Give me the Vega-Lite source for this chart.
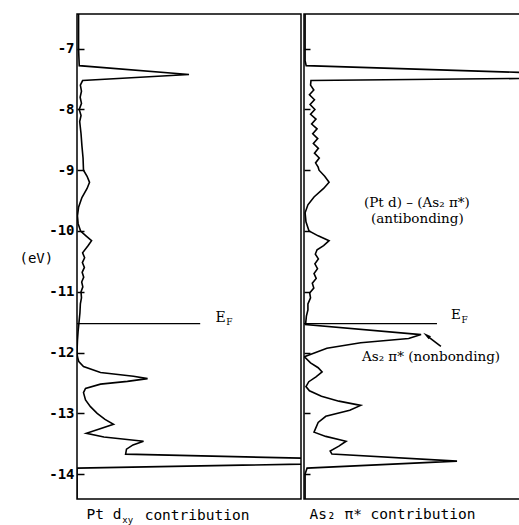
{
  "$schema": "https://vega.github.io/schema/vega-lite/v6.json",
  "padding": {"left": 18, "top": 13, "right": 0, "bottom": 0},
  "spacing": 0,
  "config": {"view": {"stroke": "black", "strokeWidth": 1.5}, "concat": {"spacing": 0}},
  "datasets": {
    "pt": [
      {"e": -6.43, "d": 0.7}, {"e": -7.0, "d": 0.7}, {"e": -7.28, "d": 1}, {"e": -7.426, "d": 50}, {"e": -7.525, "d": 2.5},
      {"e": -7.6, "d": 1.5}, {"e": -7.7, "d": 2}, {"e": -7.8, "d": 1.4}, {"e": -7.9, "d": 2}, {"e": -8.0, "d": 1},
      {"e": -8.1, "d": 1.8}, {"e": -8.2, "d": 1.2}, {"e": -8.4, "d": 1.8}, {"e": -8.6, "d": 2.2}, {"e": -8.8, "d": 2.7},
      {"e": -9.0, "d": 2.9}, {"e": -9.1, "d": 4.5}, {"e": -9.2, "d": 5.6}, {"e": -9.3, "d": 4.5}, {"e": -9.45, "d": 2.2},
      {"e": -9.61, "d": 0.7}, {"e": -9.75, "d": 0.2}, {"e": -9.88, "d": 0.5}, {"e": -10.0, "d": 1.6}, {"e": -10.08, "d": 4},
      {"e": -10.16, "d": 6.5}, {"e": -10.24, "d": 5}, {"e": -10.36, "d": 2.5}, {"e": -10.44, "d": 3.4}, {"e": -10.52, "d": 2.4},
      {"e": -10.6, "d": 3.3}, {"e": -10.68, "d": 2.3}, {"e": -10.76, "d": 3}, {"e": -10.84, "d": 2.1}, {"e": -10.92, "d": 2.6},
      {"e": -11.0, "d": 1.8}, {"e": -11.1, "d": 2}, {"e": -11.2, "d": 1.5}, {"e": -11.35, "d": 1.3}, {"e": -11.5, "d": 0.9},
      {"e": -11.65, "d": 0.5}, {"e": -11.8, "d": 0.2}, {"e": -12.0, "d": 0}, {"e": -12.07, "d": 0.2}, {"e": -12.15, "d": 0.8},
      {"e": -12.23, "d": 2.9}, {"e": -12.33, "d": 10.5}, {"e": -12.39, "d": 25.2}, {"e": -12.43, "d": 31.5}, {"e": -12.475, "d": 22.5},
      {"e": -12.52, "d": 10.5}, {"e": -12.59, "d": 3.8}, {"e": -12.66, "d": 2.9}, {"e": -12.78, "d": 3.8}, {"e": -12.89, "d": 6},
      {"e": -13.0, "d": 9}, {"e": -13.1, "d": 12.5}, {"e": -13.18, "d": 16.3}, {"e": -13.26, "d": 10}, {"e": -13.33, "d": 4.2},
      {"e": -13.39, "d": 12}, {"e": -13.46, "d": 29.7}, {"e": -13.52, "d": 25}, {"e": -13.59, "d": 22.1}, {"e": -13.672, "d": 21.7},
      {"e": -13.793, "d": 165}, {"e": -13.902, "d": 0}, {"e": -14.0, "d": 0}, {"e": -14.41, "d": 0}
    ],
    "as": [
      {"e": -6.43, "d": 0.5}, {"e": -7.2, "d": 0.5}, {"e": -7.279, "d": 1}, {"e": -7.467, "d": 165}, {"e": -7.525, "d": 3.2},
      {"e": -7.6, "d": 3}, {"e": -7.68, "d": 4.5}, {"e": -7.76, "d": 2.5}, {"e": -7.84, "d": 4.8}, {"e": -7.92, "d": 2.8},
      {"e": -8.0, "d": 5}, {"e": -8.08, "d": 3}, {"e": -8.16, "d": 5.5}, {"e": -8.24, "d": 3.5}, {"e": -8.32, "d": 6},
      {"e": -8.4, "d": 4}, {"e": -8.48, "d": 6.3}, {"e": -8.56, "d": 4.3}, {"e": -8.64, "d": 6.6}, {"e": -8.72, "d": 4.8},
      {"e": -8.8, "d": 7}, {"e": -8.88, "d": 5.3}, {"e": -8.95, "d": 6.5}, {"e": -9.0, "d": 6.9}, {"e": -9.1, "d": 9.5},
      {"e": -9.197, "d": 11.5}, {"e": -9.3, "d": 9}, {"e": -9.44, "d": 4.6}, {"e": -9.57, "d": 1.8}, {"e": -9.7, "d": 0.5},
      {"e": -9.85, "d": 0.9}, {"e": -10.0, "d": 2.3}, {"e": -10.08, "d": 6.5}, {"e": -10.16, "d": 11.5}, {"e": -10.24, "d": 9},
      {"e": -10.31, "d": 6}, {"e": -10.38, "d": 5.2}, {"e": -10.46, "d": 6.6}, {"e": -10.54, "d": 5}, {"e": -10.62, "d": 6.2},
      {"e": -10.7, "d": 4.6}, {"e": -10.78, "d": 5.6}, {"e": -10.86, "d": 3.8}, {"e": -10.94, "d": 4.5}, {"e": -11.02, "d": 2.6},
      {"e": -11.1, "d": 3}, {"e": -11.2, "d": 1.8}, {"e": -11.3, "d": 1.8}, {"e": -11.4, "d": 1.1}, {"e": -11.54, "d": 0.7},
      {"e": -11.705, "d": 53.7}, {"e": -11.77, "d": 48}, {"e": -11.84, "d": 26}, {"e": -11.93, "d": 10.5}, {"e": -12.03, "d": 3.2},
      {"e": -12.07, "d": 0.2}, {"e": -12.17, "d": 3}, {"e": -12.25, "d": 6.5}, {"e": -12.32, "d": 8.3}, {"e": -12.4, "d": 5.5},
      {"e": -12.48, "d": 2.2}, {"e": -12.56, "d": 0.9}, {"e": -12.63, "d": 2.5}, {"e": -12.72, "d": 8}, {"e": -12.8, "d": 16},
      {"e": -12.87, "d": 26}, {"e": -12.95, "d": 21}, {"e": -13.05, "d": 10}, {"e": -13.15, "d": 6.5}, {"e": -13.31, "d": 4.6},
      {"e": -13.38, "d": 10}, {"e": -13.46, "d": 19.3}, {"e": -13.54, "d": 16}, {"e": -13.62, "d": 12}, {"e": -13.67, "d": 12.8},
      {"e": -13.787, "d": 70.2}, {"e": -13.902, "d": 1.4}, {"e": -14.0, "d": 0.5}, {"e": -14.41, "d": 0.5}
    ],
    "efPt": [{"e": -11.525, "d0": 0, "d1": 55}],
    "efAs": [{"e": -11.525, "d0": 0, "d1": 61}],
    "notesPt": [
      {"kind": "main", "text": "E", "d": 61.8, "e": -11.43},
      {"kind": "sub", "text": "F", "d": 66.6, "e": -11.5}
    ],
    "bottomPt": [
      {"kind": "sub", "text": "xy", "d": 20.2, "e": -14.755},
      {"kind": "main", "text": "contribution", "d": 30.2, "e": -14.69}
    ],
    "notesAs": [
      {"kind": "main", "text": "E", "d": 67.4, "e": -11.39},
      {"kind": "sub", "text": "F", "d": 72.2, "e": -11.46},
      {"kind": "main", "text": "(Pt d) – (As₂ π*)", "d": 27.5, "e": -9.54},
      {"kind": "main", "text": "(antibonding)", "d": 30.7, "e": -9.8},
      {"kind": "main", "text": "As₂ π* (nonbonding)", "d": 26.6, "e": -12.066}
    ],
    "arrow": [{"d": 62.8, "e": -11.9, "d2": 56.9, "e2": -11.74}],
    "arrowHead": [{"d": 56.2, "e": -11.715}]
  },
  "hconcat": [
    {
      "width": 224,
      "height": 485,
      "layer": [
        {
          "data": {"name": "pt"},
          "mark": {"type": "line", "clip": true, "color": "black", "strokeWidth": 1.6},
          "encoding": {
            "x": {"field": "d", "type": "quantitative", "scale": {"domain": [0, 100], "nice": false},
              "axis": {"domain": false, "ticks": false, "labels": false, "grid": false, "title": "Pt d",
                "titleAnchor": "start", "titleAlign": "left", "titleX": 9, "titleY": 15, "titleBaseline": "middle",
                "titleFont": "DejaVu Sans Mono", "titleFontSize": 14.5, "titleFontWeight": "normal", "titleColor": "black"}},
            "y": {"field": "e", "type": "quantitative", "scale": {"domain": [-14.41, -6.43], "nice": false, "zero": false},
              "axis": {"values": [-14, -13, -12, -11, -10, -9, -8, -7], "domain": false, "grid": false,
                "tickSize": -7, "tickWidth": 1.5, "tickColor": "black", "labelPadding": 10,
                "labelExpr": "'-' + abs(datum.value)", "labelFont": "DejaVu Sans Mono", "labelFontWeight": "bold",
                "labelFontSize": 14, "labelColor": "black",
                "title": "(eV)", "titleAngle": 0, "titleX": -58, "titleY": 244, "titleAlign": "left", "titleBaseline": "middle",
                "titleFont": "DejaVu Sans Mono", "titleFontSize": 14, "titleFontWeight": "normal", "titleColor": "black"}},
            "order": {"field": "e", "sort": "descending"}
          }
        },
        {
          "data": {"name": "efPt"},
          "mark": {"type": "rule", "color": "black", "strokeWidth": 1.2},
          "encoding": {
            "x": {"field": "d0", "type": "quantitative"},
            "x2": {"field": "d1"},
            "y": {"field": "e", "type": "quantitative"}
          }
        },
        {
          "data": {"name": "notesPt"},
          "transform": [{"filter": "datum.kind === 'main'"}],
          "mark": {"type": "text", "font": "DejaVu Serif", "fontSize": 14, "align": "left", "baseline": "middle", "color": "black"},
          "encoding": {
            "x": {"field": "d", "type": "quantitative"},
            "y": {"field": "e", "type": "quantitative"},
            "text": {"field": "text"}
          }
        },
        {
          "data": {"name": "notesPt"},
          "transform": [{"filter": "datum.kind === 'sub'"}],
          "mark": {"type": "text", "font": "DejaVu Serif", "fontSize": 9, "align": "left", "baseline": "middle", "color": "black"},
          "encoding": {
            "x": {"field": "d", "type": "quantitative"},
            "y": {"field": "e", "type": "quantitative"},
            "text": {"field": "text"}
          }
        },
        {
          "data": {"name": "bottomPt"},
          "transform": [{"filter": "datum.kind === 'sub'"}],
          "mark": {"type": "text", "font": "DejaVu Sans Mono", "fontSize": 9, "align": "left", "baseline": "middle", "color": "black"},
          "encoding": {
            "x": {"field": "d", "type": "quantitative"},
            "y": {"field": "e", "type": "quantitative"},
            "text": {"field": "text"}
          }
        },
        {
          "data": {"name": "bottomPt"},
          "transform": [{"filter": "datum.kind === 'main'"}],
          "mark": {"type": "text", "font": "DejaVu Sans Mono", "fontSize": 14.5, "align": "left", "baseline": "middle", "color": "black"},
          "encoding": {
            "x": {"field": "d", "type": "quantitative"},
            "y": {"field": "e", "type": "quantitative"},
            "text": {"field": "text"}
          }
        }
      ]
    },
    {
      "width": 218,
      "height": 485,
      "layer": [
        {
          "data": {"name": "as"},
          "mark": {"type": "line", "clip": true, "color": "black", "strokeWidth": 1.6},
          "encoding": {
            "x": {"field": "d", "type": "quantitative", "scale": {"domain": [0, 100], "nice": false},
              "axis": {"domain": false, "ticks": false, "labels": false, "grid": false, "title": "As₂ π*\u00a0contribution",
                "titleAnchor": "start", "titleAlign": "left", "titleX": 5, "titleY": 15, "titleBaseline": "middle",
                "titleFont": "DejaVu Sans Mono", "titleFontSize": 14.5, "titleFontWeight": "normal", "titleColor": "black"}},
            "y": {"field": "e", "type": "quantitative", "scale": {"domain": [-14.41, -6.43], "nice": false, "zero": false},
              "axis": {"values": [-14, -13, -12, -11, -10, -9, -8, -7], "domain": false, "grid": false,
                "tickSize": -6, "tickWidth": 1.5, "tickColor": "black", "labels": false, "title": null}},
            "order": {"field": "e", "sort": "descending"}
          }
        },
        {
          "data": {"name": "efAs"},
          "mark": {"type": "rule", "color": "black", "strokeWidth": 1.2},
          "encoding": {
            "x": {"field": "d0", "type": "quantitative"},
            "x2": {"field": "d1"},
            "y": {"field": "e", "type": "quantitative"}
          }
        },
        {
          "data": {"name": "notesAs"},
          "transform": [{"filter": "datum.kind === 'main'"}],
          "mark": {"type": "text", "font": "DejaVu Serif", "fontSize": 13.5, "align": "left", "baseline": "middle", "color": "black"},
          "encoding": {
            "x": {"field": "d", "type": "quantitative"},
            "y": {"field": "e", "type": "quantitative"},
            "text": {"field": "text"}
          }
        },
        {
          "data": {"name": "notesAs"},
          "transform": [{"filter": "datum.kind === 'sub'"}],
          "mark": {"type": "text", "font": "DejaVu Serif", "fontSize": 9, "align": "left", "baseline": "middle", "color": "black"},
          "encoding": {
            "x": {"field": "d", "type": "quantitative"},
            "y": {"field": "e", "type": "quantitative"},
            "text": {"field": "text"}
          }
        },
        {
          "data": {"name": "arrow"},
          "mark": {"type": "rule", "color": "black", "strokeWidth": 1.6},
          "encoding": {
            "x": {"field": "d", "type": "quantitative"},
            "y": {"field": "e", "type": "quantitative"},
            "x2": {"field": "d2"},
            "y2": {"field": "e2"}
          }
        },
        {
          "data": {"name": "arrowHead"},
          "mark": {"type": "point", "shape": "M0,-1L0.45,1L-0.45,1Z", "filled": true, "color": "black", "opacity": 1, "size": 70, "angle": 308},
          "encoding": {
            "x": {"field": "d", "type": "quantitative"},
            "y": {"field": "e", "type": "quantitative"}
          }
        }
      ]
    }
  ]
}
